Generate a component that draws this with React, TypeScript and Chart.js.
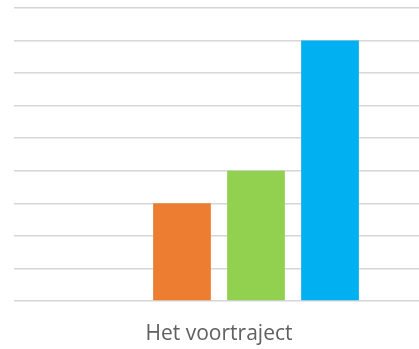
import React, { useEffect, useRef } from "react";
import { Chart, registerables } from "chart.js";

Chart.register(...registerables);

const categories = ["Het voortraject"];
const seriesNames = ["Reeks 1", "Reeks 2", "Reeks 3", "Reeks 4"];
const seriesValues = [[0], [3], [4], [8]];
const seriesColors = ["#A5A5A5", "#ED7D31", "#92D050", "#00B0F0"];
const yMax = 9;

export default function App() {
  const canvasRef = useRef<HTMLCanvasElement | null>(null);

  useEffect(() => {
    if (!canvasRef.current) return;
    const chart = new Chart(canvasRef.current, {
      type: "bar",
      data: {
        labels: categories,
        datasets: seriesNames.map((name, i) => ({
          label: name,
          data: seriesValues[i],
          backgroundColor: seriesColors[i],
          borderWidth: 0,
          barPercentage: 0.78,
          categoryPercentage: 0.722,
        })),
      },
      options: {
        responsive: false,
        animation: false,
        layout: { padding: { left: 14, right: 16, top: 8, bottom: 0 } },
        plugins: {
          legend: { display: false },
          tooltip: { enabled: false },
        },
        scales: {
          x: {
            grid: { display: false, drawTicks: false },
            border: { display: false },
            ticks: {
              padding: 20,
              color: "#606060",
              font: { family: "'Open Sans', sans-serif", size: 21 },
            },
            afterFit: (scale: any) => {
              scale.height = 48;
            },
          },
          y: {
            min: 0,
            max: yMax,
            ticks: { display: false, stepSize: 1 },
            grid: { color: "#d6d6d6", lineWidth: 1.6, drawTicks: false },
            border: { display: false },
          },
        },
      },
    });
    return () => chart.destroy();
  }, []);

  return (
    <div
      style={{
        position: "fixed",
        left: 0,
        top: 0,
        width: 419,
        height: 349,
        overflow: "hidden",
        background: "#ffffff",
      }}
    >
      <canvas ref={canvasRef} width={440} height={349} style={{ display: "block" }} />
    </div>
  );
}
